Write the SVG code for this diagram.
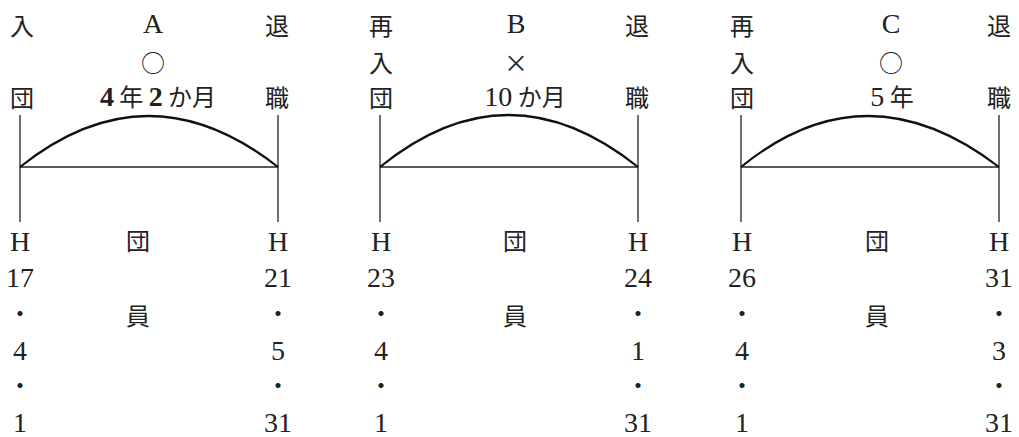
<svg xmlns="http://www.w3.org/2000/svg" width="1019" height="437" viewBox="0 0 1019 437">
<style>
.t{font-family:"Liberation Serif","Noto Sans CJK JP",serif;font-size:28px;fill:#222;text-anchor:middle}
.j{font-family:"Noto Sans CJK JP","Liberation Serif",sans-serif;font-size:24px;fill:#222;text-anchor:middle}
.k{font-family:"Noto Sans CJK JP",sans-serif;font-size:24px}
.v{stroke:#222;stroke-width:1.3;fill:none}
.h{stroke:#222;stroke-width:1.5;fill:none}
.a{stroke:#111;stroke-width:2.2;fill:none}
</style>
<rect width="1019" height="437" fill="#fff"/>
<g id="connectors">
<line class="v" x1="20" y1="115" x2="20" y2="222"/>
<line class="v" x1="278" y1="115" x2="278" y2="222"/>
<line class="h" x1="20" y1="167" x2="278" y2="167"/>
<path class="a" d="M20,167 Q148,65 278,167"/>
<line class="v" x1="380" y1="115" x2="380" y2="222"/>
<line class="v" x1="638" y1="115" x2="638" y2="222"/>
<line class="h" x1="380" y1="167" x2="638" y2="167"/>
<path class="a" d="M380,167 Q508,63 638,167"/>
<line class="v" x1="741" y1="115" x2="741" y2="222"/>
<line class="v" x1="999" y1="115" x2="999" y2="222"/>
<line class="h" x1="741" y1="167" x2="999" y2="167"/>
<path class="a" d="M741,167 Q866,65 999,167"/>
</g>
<g id="nodeA">
<text class="j" x="22" y="35">入</text>
<text class="j" x="22" y="107">団</text>
<text class="t" x="153" y="33">A</text>
<text class="j" x="153" y="72">○</text>
<text class="t" x="158" y="106"><tspan font-weight="bold">4</tspan><tspan class="k"> 年 </tspan><tspan font-weight="bold">2</tspan><tspan class="k"> か月</tspan></text>
<text class="j" x="277" y="35">退</text>
<text class="j" x="277" y="107">職</text>
<text class="t" x="20" y="251">H</text>
<text class="t" x="20" y="287">17</text>
<text class="j" x="20" y="322">・</text>
<text class="t" x="20" y="360">4</text>
<text class="j" x="20" y="394">・</text>
<text class="t" x="20" y="432">1</text>
<text class="j" x="138" y="250">団</text>
<text class="j" x="138" y="325">員</text>
<text class="t" x="278" y="251">H</text>
<text class="t" x="278" y="287">21</text>
<text class="j" x="278" y="322">・</text>
<text class="t" x="278" y="360">5</text>
<text class="j" x="278" y="394">・</text>
<text class="t" x="278" y="432">31</text>
</g>
<g id="nodeB">
<text class="j" x="381" y="35">再</text>
<text class="j" x="381" y="72">入</text>
<text class="j" x="381" y="107">団</text>
<text class="t" x="516" y="33">B</text>
<text class="j" x="516" y="72">×</text>
<text class="t" x="525" y="106">10<tspan class="k"> か月</tspan></text>
<text class="j" x="637" y="35">退</text>
<text class="j" x="637" y="107">職</text>
<text class="t" x="381" y="251">H</text>
<text class="t" x="381" y="287">23</text>
<text class="j" x="381" y="322">・</text>
<text class="t" x="381" y="360">4</text>
<text class="j" x="381" y="394">・</text>
<text class="t" x="381" y="432">1</text>
<text class="j" x="515" y="250">団</text>
<text class="j" x="515" y="325">員</text>
<text class="t" x="638" y="251">H</text>
<text class="t" x="638" y="287">24</text>
<text class="j" x="638" y="322">・</text>
<text class="t" x="638" y="360">1</text>
<text class="j" x="638" y="394">・</text>
<text class="t" x="638" y="432">31</text>
</g>
<g id="nodeC">
<text class="j" x="742" y="35">再</text>
<text class="j" x="742" y="72">入</text>
<text class="j" x="742" y="107">団</text>
<text class="t" x="891" y="33">C</text>
<text class="j" x="891" y="72">○</text>
<text class="t" x="892" y="106">5<tspan class="k"> 年</tspan></text>
<text class="j" x="999" y="35">退</text>
<text class="j" x="999" y="107">職</text>
<text class="t" x="742" y="251">H</text>
<text class="t" x="742" y="287">26</text>
<text class="j" x="742" y="322">・</text>
<text class="t" x="742" y="360">4</text>
<text class="j" x="742" y="394">・</text>
<text class="t" x="742" y="432">1</text>
<text class="j" x="877" y="250">団</text>
<text class="j" x="877" y="325">員</text>
<text class="t" x="999" y="251">H</text>
<text class="t" x="999" y="287">31</text>
<text class="j" x="999" y="322">・</text>
<text class="t" x="999" y="360">3</text>
<text class="j" x="999" y="394">・</text>
<text class="t" x="999" y="432">31</text>
</g>
</svg>
